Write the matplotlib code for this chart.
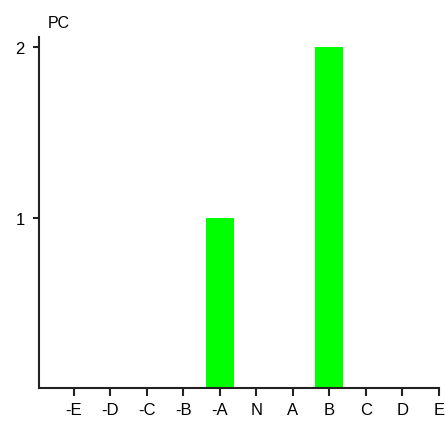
import matplotlib
matplotlib.use('Agg')
import matplotlib.pyplot as plt

# categories and values
categories = ['-E', '-D', '-C', '-B', '-A', 'N', 'A', 'B', 'C', 'D', 'E']
values = [0, 0, 0, 0, 1, 0, 0, 2, 0, 0, 0]
y_ticks = [1, 2]

plt.rcParams['font.family'] = ['Liberation Sans', 'DejaVu Sans']

fig = plt.figure(figsize=(4.45, 4.27), dpi=100)
ax = fig.add_axes([0.087, 0.089, 0.899, 0.822])

pos = list(range(len(categories)))
ax.bar(pos, values, width=0.77, color='#00ff00', edgecolor='none')

ax.set_xlim(-0.96, 10)
ax.set_ylim(0, 2.06)
ax.set_xticks(pos)
ax.set_xticklabels(categories)
ax.set_yticks(y_ticks)
ax.set_yticklabels([str(t) for t in y_ticks])

for s in ['top', 'right']:
    ax.spines[s].set_visible(False)
for s in ['left', 'bottom']:
    ax.spines[s].set_linewidth(1.5)
    ax.spines[s].set_color('#222222')

ax.tick_params(axis='x', length=6, width=1.5, color='#222222', labelsize=12, pad=4)
ax.tick_params(axis='y', length=4, width=1.5, color='#222222', labelsize=12, pad=6)

ax.text(0.022, 1.02, 'PC', transform=ax.transAxes, fontsize=11.5, ha='left', va='bottom')

fig.savefig('out.png', dpi=100)
